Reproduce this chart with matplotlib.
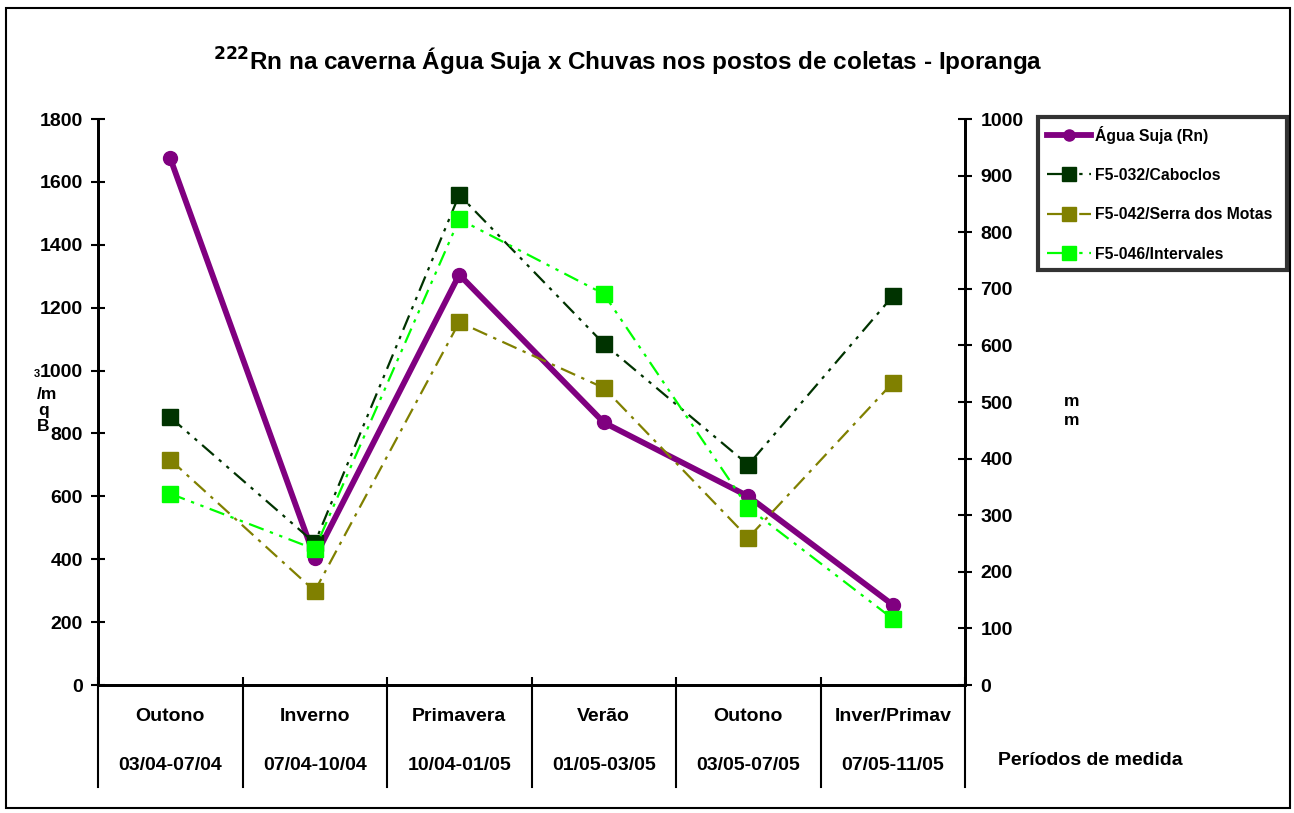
import matplotlib
matplotlib.use("Agg")
import matplotlib.pyplot as plt
import matplotlib.transforms as mtransforms
from matplotlib.lines import Line2D
import numpy as np

plt.rcParams['font.family'] = ['Liberation Sans', 'DejaVu Sans']

seasons = ["Outono", "Inverno", "Primavera", "Verão", "Outono", "Inver/Primav"]
periods = ["03/04-07/04", "07/04-10/04", "10/04-01/05", "01/05-03/05", "03/05-07/05", "07/05-11/05"]
rn_agua_suja = [1675, 405, 1305, 835, 600, 255]
caboclos = [473, 251, 866, 603, 389, 687]
serra_motas = [398, 166, 641, 525, 260, 534]
intervales = [338, 240, 823, 691, 313, 117]

W, H = 1294, 813
fig = plt.figure(figsize=(W / 100, H / 100), dpi=100)

def fx(px):
    return px / W

def fy(py):
    return 1 - py / H

ax = fig.add_axes([fx(98), fy(685), fx(965) - fx(98), fy(119) - fy(685)])
ax2 = ax.twinx()

x = np.arange(len(seasons))

ax.plot(x, rn_agua_suja, color='#800080', lw=4.2, marker='o', ms=10,
        mfc='#800080', mec='#800080', zorder=3, label='Água Suja (Rn)')
ax2.plot(x, caboclos, color='#003300', lw=1.6, ls=(0, (7, 3, 1.5, 3, 1.5, 3)),
         marker='s', ms=12, mfc='#003300', mec='#003300', label='F5-032/Caboclos')
ax2.plot(x, serra_motas, color='#808000', lw=1.6, ls=(0, (7, 3, 1.5, 3)),
         marker='s', ms=12, mfc='#808000', mec='#808000', label='F5-042/Serra dos Motas')
ax2.plot(x, intervales, color='#00FF00', lw=1.6, ls=(0, (7, 3, 1.5, 3, 1.5, 3)),
         marker='s', ms=12, mfc='#00FF00', mec='#00FF00', label='F5-046/Intervales')

ax.set_xlim(-0.5, len(seasons) - 0.5)
ax.set_ylim(0, 1800)
ax2.set_ylim(0, 1000)
ax.set_yticks(np.arange(0, 1801, 200))
ax2.set_yticks(np.arange(0, 1001, 100))

for a in (ax, ax2):
    a.spines['top'].set_visible(False)
    for s in ('left', 'right', 'bottom'):
        a.spines[s].set_linewidth(2)
        a.spines[s].set_color('black')

ax.tick_params(axis='y', direction='inout', length=10, width=1.5, labelsize=14, pad=6)
ax2.tick_params(axis='y', direction='inout', length=10, width=1.5, labelsize=14, pad=6)
for t in ax.get_yticklabels() + ax2.get_yticklabels():
    t.set_fontweight('bold')

ax.set_xticks([])
ax.set_xticks(np.arange(-0.5, len(seasons) + 0.5, 1), minor=True)
ax.tick_params(axis='x', which='minor', direction='in', length=6, width=1.5)
ax.tick_params(axis='x', which='major', length=0)

trans = mtransforms.blended_transform_factory(ax.transData, ax.transAxes)
sep_bottom = -(787 - 685) / (685 - 119)
for b in np.arange(-0.5, len(seasons) + 0.5, 1):
    ax.add_line(Line2D([b, b], [0, sep_bottom], transform=trans, color='black',
                       lw=1.5, clip_on=False))
for i in range(len(seasons)):
    ax.text(x[i], -(716 - 685) / 566, seasons[i], transform=trans, ha='center',
            va='center', fontsize=14, fontweight='bold')
    ax.text(x[i], -(765 - 685) / 566, periods[i], transform=trans, ha='center',
            va='center', fontsize=14, fontweight='bold')

fig.text(fx(998), fy(760), "Períodos de medida", ha='left', va='center',
         fontsize=14, fontweight='bold')

fig.text(fx(628), fy(62), r"$^{\mathbf{222}}$Rn na caverna Água Suja x Chuvas nos postos de coletas - Iporanga",
         ha='center', va='center', fontsize=17.5, fontweight='bold')

# left axis label (stacked)
fig.text(fx(37), fy(374), "3", ha='center', va='center', fontsize=8, fontweight='bold')
fig.text(fx(47), fy(394), "/m", ha='center', va='center', fontsize=12.5, fontweight='bold')
fig.text(fx(44), fy(410), "q", ha='center', va='center', fontsize=12.5, fontweight='bold')
fig.text(fx(43), fy(426), "B", ha='center', va='center', fontsize=12.5, fontweight='bold')

# right axis label (stacked)
fig.text(fx(1072), fy(402), "m", ha='center', va='center', fontsize=12.5, fontweight='bold')
fig.text(fx(1072), fy(420), "m", ha='center', va='center', fontsize=12.5, fontweight='bold')

h1, l1 = ax.get_legend_handles_labels()
h2, l2 = ax2.get_legend_handles_labels()
leg = fig.legend(h1 + h2, l1 + l2, loc='upper left',
                 bbox_to_anchor=(fx(1038), fy(265), fx(1287) - fx(1038), fy(117) - fy(265)),
                 mode='expand', frameon=True, fancybox=False, edgecolor='black',
                 prop={'weight': 'bold', 'size': 11.3}, handlelength=2.8, handletextpad=0.3,
                 labelspacing=1.55, borderpad=0.55, borderaxespad=0, markerscale=0.8)
leg.get_frame().set_linewidth(3)

# figure border
fig.add_artist(plt.Rectangle((fx(6), fy(808)), fx(1290) - fx(6), fy(8) - fy(808),
                             transform=fig.transFigure, fill=False, ec='black', lw=1.5))

fig.savefig("out.png", dpi=100)
